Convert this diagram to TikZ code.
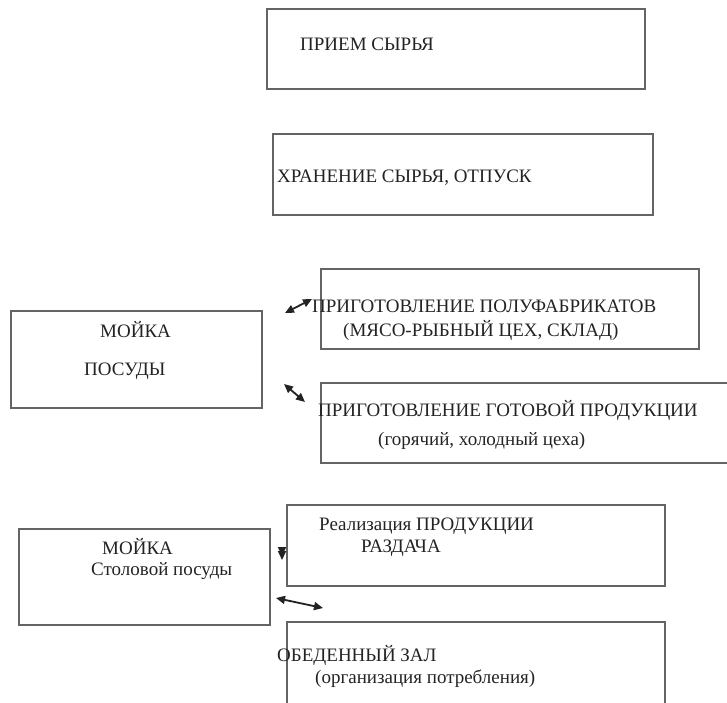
\documentclass[tikz,border=0pt]{standalone}
\usepackage{fontspec}
\setmainfont{Liberation Serif}
\usetikzlibrary{arrows.meta}
\definecolor{ink}{RGB}{35,35,35}
\definecolor{rule}{RGB}{100,100,100}
\begin{document}
\begin{tikzpicture}[x=1pt,y=-1pt,
  box/.style={draw=rule,line width=1.3pt,inner sep=0pt},
  lbl/.style={anchor=base west,inner sep=0pt,text=ink,font=\fontsize{19}{22}\selectfont},
  dbl/.style={ink,line width=1.8pt,{Triangle[length=9pt,width=8pt]}-{Triangle[length=9pt,width=8pt]}}]
\useasboundingbox (0,0) rectangle (727,702);
\clip (0,0) rectangle (727,702);
% boxes
\node [box,minimum width=378pt,minimum height=80pt] (priem) at (456,49) {};
\node [box,minimum width=380pt,minimum height=81pt] (hran) at (463,174.5) {};
\node [box,minimum width=378pt,minimum height=80pt] (polu) at (510,309) {};
\node [box,minimum width=419pt,minimum height=80pt] (gotov) at (530.5,423) {};
\node [box,minimum width=251pt,minimum height=97pt] (moika) at (136.5,359.5) {};
\node [box,minimum width=378pt,minimum height=81pt] (razd) at (476,545.5) {};
\node [box,minimum width=251pt,minimum height=96pt] (stol) at (144.5,577) {};
\node [box,minimum width=378pt,minimum height=98pt] (zal) at (476,671) {};
% texts
\node [lbl] (tpriem) at (300,50) {ПРИЕМ СЫРЬЯ};
\node [lbl] (thran) at (277,182) {ХРАНЕНИЕ СЫРЬЯ, ОТПУСК};
\node [lbl] (tpolu) at (312,312) {ПРИГОТОВЛЕНИЕ ПОЛУФАБРИКАТОВ};
\node [lbl] (tpolu2) at (343,336) {(МЯСО-РЫБНЫЙ ЦЕХ, СКЛАД)};
\node [lbl] (tgotov) at (318,416) {ПРИГОТОВЛЕНИЕ ГОТОВОЙ ПРОДУКЦИИ};
\node [lbl] (tgotov2) at (378,445) {(горячий, холодный цеха)};
\node [lbl] (tmoika) at (100,337) {МОЙКА};
\node [lbl] (tmoika2) at (84,375) {ПОСУДЫ};
\node [lbl] (trazd) at (319,530) {Реализация ПРОДУКЦИИ};
\node [lbl] (trazd2) at (361,552) {РАЗДАЧА};
\node [lbl] (tstol) at (102,554) {МОЙКА};
\node [lbl] (tstol2) at (91,575) {Столовой посуды};
\node [lbl] (tzal) at (277,661) {ОБЕДЕННЫЙ ЗАЛ};
\node [lbl] (tzal2) at (315,683) {(организация потребления)};
% arrows
\coordinate (p1) at (285,313);
\coordinate (q1) at (312,299);
\coordinate (p2) at (284,384);
\coordinate (q2) at (305,402);
\coordinate (p3) at (282,556);
\coordinate (q3) at (282,560);
\coordinate (p4) at (276,598);
\coordinate (q4) at (323,608);
\draw [dbl] (p1)--(q1);
\draw [dbl] (p2)--(q2);
\draw [dbl] (p3)--(q3);
\draw [dbl] (p4)--(q4);
\end{tikzpicture}
\end{document}
